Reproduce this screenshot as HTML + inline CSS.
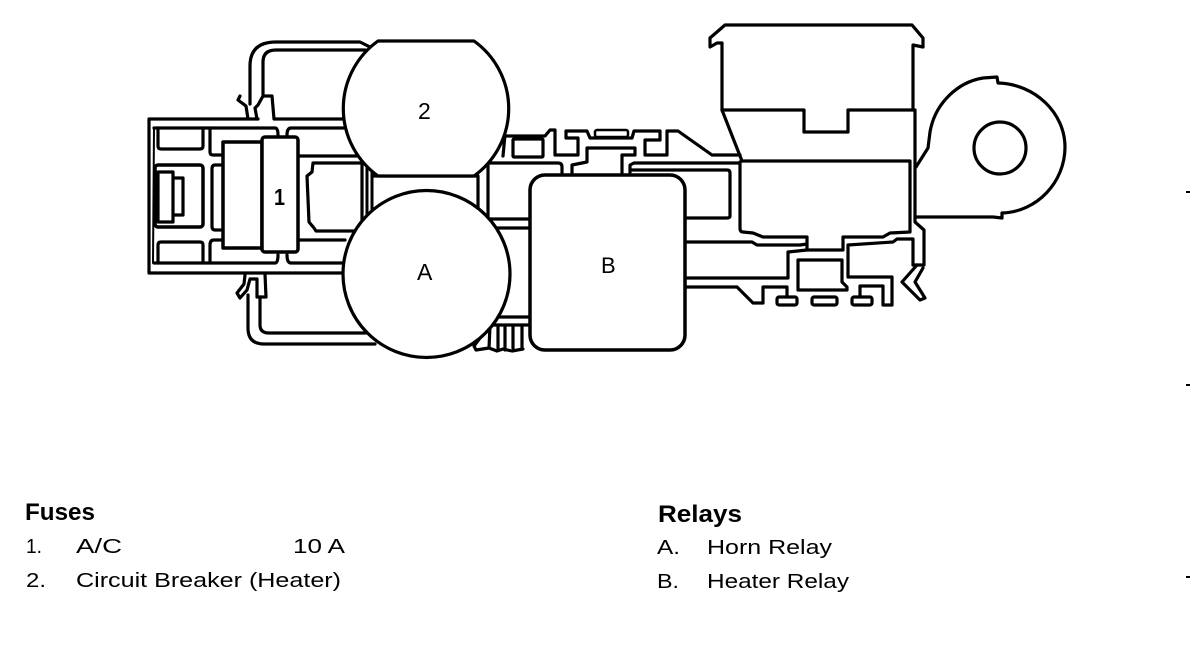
<!DOCTYPE html>
<html><head><meta charset="utf-8"><style>
html,body{margin:0;padding:0;background:#fff}
svg{display:block}
text{font-family:"Liberation Sans",sans-serif;fill:#000}
</style></head><body>
<svg width="1200" height="672" viewBox="0 0 1200 672" xmlns="http://www.w3.org/2000/svg">
<g fill="none" stroke="#000" stroke-width="3.2" stroke-linejoin="round" stroke-linecap="round">
<!-- left body -->
<path d="M345,119H274L272,96H263L258,105 255,108 257,119 258,119H248L246,106 238,100 240,96"/>
<path d="M345,273H149V119H247"/>
<path d="M154,128H275Q278,128 278,135M287,135Q287,128 291,128H345"/>
<path d="M154,263H275Q278,263 278,255M287,255Q287,263 291,263H345"/>
<path d="M154,128L153,263" stroke-width="2"/>
<path d="M158,128V146Q158,149 161,149H200Q203,149 203,146V128"/>
<path d="M158,263V245Q158,242 161,242H200Q203,242 203,245V263"/>
<path d="M210,128V152Q210,155 213,155H223M223,165H215Q212,165 212,169V226Q212,230 215,230H223M223,240H214Q210,240 210,245V263"/>
<rect x="155" y="165" width="48" height="62" rx="3" stroke-width="3.5"/>
<path d="M173,172H158V222H173V172M173,178H183V215H173"/>
<path d="M223,142H262V248H223Z" stroke-width="3.5"/>
<path d="M298,156H360M298,240H345"/>
<path d="M362,163H313L312,172 307,176 309,222 314,228 316,231H362V163"/>
<path d="M367,165V214M372,170V210" stroke-width="3"/>
<path d="M372,176H478M478,176V212M488,165V222"/>
<path d="M250,104V66Q250,42 276,42H360L372,48M263,95V62Q263,50 276,50H365"/>
<path d="M245,275L244,284 237,293 240,298 247,290 250,279H257V297H266L265,274"/>
<path d="M248,295V328Q248,344 264,344H375M260,297V325Q260,333 269,333H366"/>
<!-- center -->
<path d="M488,136H545L550,130H555V155H578V138H566V131H587L590,138H632L634,131H660V140H645V155H667V131H678L712,155H740"/>
<rect x="595" y="130" width="33" height="7" rx="2" stroke-width="2.5"/>
<rect x="513" y="139" width="30" height="18" rx="1"/>
<path d="M505,135L503,156M488,163H558Q562,163 562,167V173M572,173V165L587,162V148H635V155H622V173M630,173V165L634,163H740"/>
<path d="M632,170H727Q730,170 730,173V216Q730,218 727,218H685"/>
<path d="M490,219H530M497,228H530M497,317H530M488,325H530"/>
<path d="M489,326L474,346 476,350 489,348 490,326M498,326V348M505,326V350M513,326V348M522,326V348M489,348L497,351 503,349 512,351 523,349"/>
<path d="M685,242H752L757,245H800L807,244M685,278H788V252L807,250M685,287H737L753,303H763V287H787V296"/>
<!-- right -->
<path d="M722,110V43H717L710,47V38L725,25H912L923,38V47L913,45V110"/>
<path d="M722,110H804V132H848V110H915V222L924,230V265H913V239H897L893,242 848,245V277H892V305H883V286H860V297"/>
<path d="M722,110L742,161H910V232L890,233 883,237H843V250H807V237H763L753,233 743,232Q740,232 740,228V162"/>
<path d="M798,260H842V282L847,287V290H798Z"/>
<rect x="777" y="297" width="20" height="8" rx="2"/>
<rect x="812" y="297" width="25" height="8" rx="2"/>
<rect x="852" y="297" width="20" height="8" rx="2"/>
<path d="M917,265L902,282 920,300 925,298 915,282 923,268"/>
<path d="M916,167L928,148 930,132C935,103 958,82 983,78L997,77 998,83C1035,84 1065,113 1065,147C1065,182 1037,212 1002,213L1002,218 993,217H917"/>
<circle cx="1000" cy="148" r="26"/>
<!-- relays and circles on top -->
<path d="M378,41H474A83,83,0,0,1,474,176H378A83,83,0,0,1,378,41Z" fill="#fff"/>
<circle cx="426.500" cy="274" r="83.500" fill="#fff"/>
<rect x="530" y="175" width="155" height="175" rx="15" fill="#fff" stroke-width="3.500"/>
<rect x="262" y="137" width="36" height="115" rx="3" fill="#fff" stroke-width="3.500"/>
</g>
<g fill="#000" stroke="none">
<rect x="1186" y="191" width="4" height="2"/>
<rect x="1186" y="384" width="4" height="2"/>
<rect x="1186" y="576" width="4" height="2"/>
</g>
<text x="418" y="119" font-size="23">2</text>
<text x="274" y="205" font-size="23" font-weight="bold" textLength="11" lengthAdjust="spacingAndGlyphs">1</text>
<text x="417" y="280" font-size="23">A</text>
<text x="601" y="273" font-size="22">B</text>
<text x="25" y="520" font-size="24" font-weight="bold" textLength="70" lengthAdjust="spacingAndGlyphs">Fuses</text>
<text x="26" y="553" font-size="20" textLength="16" lengthAdjust="spacingAndGlyphs">1.</text>
<text x="76" y="553" font-size="20" textLength="46" lengthAdjust="spacingAndGlyphs">A/C</text>
<text x="293" y="553" font-size="20" textLength="52" lengthAdjust="spacingAndGlyphs">10 A</text>
<text x="26" y="587" font-size="20" textLength="20" lengthAdjust="spacingAndGlyphs">2.</text>
<text x="76" y="587" font-size="20" textLength="265" lengthAdjust="spacingAndGlyphs">Circuit Breaker (Heater)</text>
<text x="658" y="522" font-size="24" font-weight="bold" textLength="84" lengthAdjust="spacingAndGlyphs">Relays</text>
<text x="657" y="554" font-size="20" textLength="23" lengthAdjust="spacingAndGlyphs">A.</text>
<text x="707" y="554" font-size="20" textLength="125" lengthAdjust="spacingAndGlyphs">Horn Relay</text>
<text x="657" y="588" font-size="20" textLength="22" lengthAdjust="spacingAndGlyphs">B.</text>
<text x="707" y="588" font-size="20" textLength="142" lengthAdjust="spacingAndGlyphs">Heater Relay</text>
</svg>
</body></html>
